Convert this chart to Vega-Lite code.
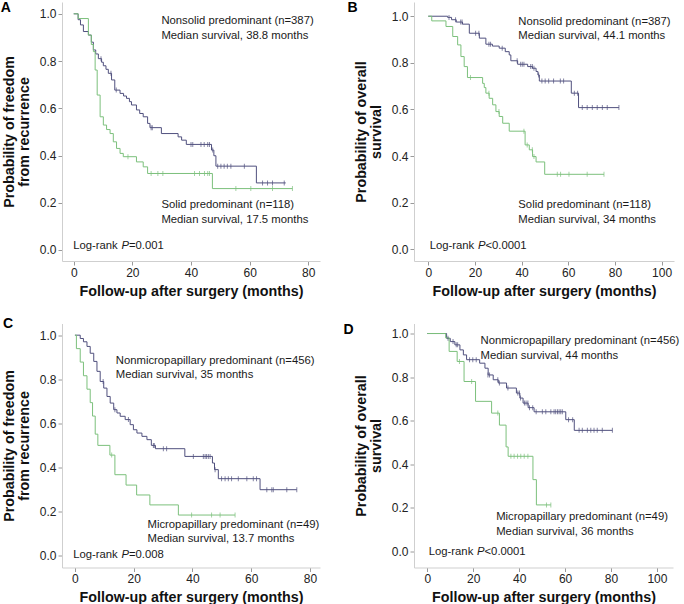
{
"$schema": "https://vega.github.io/schema/vega-lite/v6.json",
"padding": {"left": 0, "top": 0, "right": 0, "bottom": 0},
"columns": 2,
"bounds": "flush",
"spacing": {"row": 62.5, "column": 94},
"config": {
 "view": {"stroke": null},
 "font": "Liberation Sans",
 "axis": {"grid": false, "domainColor": "#cfcfcf", "tickColor": "#9a9a9a", "tickSize": 4, "labelFont": "Liberation Sans", "labelFontSize": 12, "labelColor": "#222", "labelPadding": 2, "titleFont": "Liberation Sans", "titleFontSize": 14.3, "titleFontWeight": "bold", "titleColor": "#111", "titleLineHeight": 15},
 "axisX": {"titlePadding": 6},
 "axisY": {"titlePadding": 8},
 "text": {"font": "Liberation Sans", "fontSize": 11.3, "color": "#1a1a1a"}
},
"datasets": {
 "km": [
  {"p":"A","g":"n","t":0,"s":1},{"p":"A","g":"n","t":1.5,"s":0.975},{"p":"A","g":"n","t":2.3,"s":0.953},{"p":"A","g":"n","t":3.3,"s":0.925},{"p":"A","g":"n","t":5.0,"s":0.91},{"p":"A","g":"n","t":6.0,"s":0.88},{"p":"A","g":"n","t":6.7,"s":0.847},{"p":"A","g":"n","t":7.5,"s":0.83},{"p":"A","g":"n","t":8.4,"s":0.81},{"p":"A","g":"n","t":9.5,"s":0.795},{"p":"A","g":"n","t":10.1,"s":0.78},{"p":"A","g":"n","t":11.0,"s":0.765},{"p":"A","g":"n","t":11.8,"s":0.748},{"p":"A","g":"n","t":12.9,"s":0.72},{"p":"A","g":"n","t":14.0,"s":0.677},{"p":"A","g":"n","t":15.8,"s":0.663},{"p":"A","g":"n","t":17.0,"s":0.652},{"p":"A","g":"n","t":18.0,"s":0.642},{"p":"A","g":"n","t":19.0,"s":0.628},{"p":"A","g":"n","t":19.7,"s":0.614},{"p":"A","g":"n","t":21.4,"s":0.593},{"p":"A","g":"n","t":22.5,"s":0.578},{"p":"A","g":"n","t":23.7,"s":0.564},{"p":"A","g":"n","t":25.2,"s":0.536},{"p":"A","g":"n","t":26.0,"s":0.518},{"p":"A","g":"n","t":29.9,"s":0.493},{"p":"A","g":"n","t":35.6,"s":0.479},{"p":"A","g":"n","t":36.8,"s":0.465},{"p":"A","g":"n","t":38.4,"s":0.447},{"p":"A","g":"n","t":47.0,"s":0.423},{"p":"A","g":"n","t":47.8,"s":0.399},{"p":"A","g":"n","t":48.5,"s":0.355},{"p":"A","g":"n","t":62.3,"s":0.284},{"p":"A","g":"n","t":72.3,"s":0.284},
  {"p":"A","g":"s","t":0,"s":1},{"p":"A","g":"s","t":1.5,"s":0.98},{"p":"A","g":"s","t":5.0,"s":0.91},{"p":"A","g":"s","t":6.0,"s":0.87},{"p":"A","g":"s","t":6.7,"s":0.84},{"p":"A","g":"s","t":7.3,"s":0.762},{"p":"A","g":"s","t":8.0,"s":0.656},{"p":"A","g":"s","t":9.0,"s":0.564},{"p":"A","g":"s","t":10.1,"s":0.529},{"p":"A","g":"s","t":11.2,"s":0.51},{"p":"A","g":"s","t":12.4,"s":0.493},{"p":"A","g":"s","t":13.5,"s":0.458},{"p":"A","g":"s","t":14.6,"s":0.43},{"p":"A","g":"s","t":15.8,"s":0.409},{"p":"A","g":"s","t":16.9,"s":0.395},{"p":"A","g":"s","t":21.4,"s":0.373},{"p":"A","g":"s","t":23.7,"s":0.352},{"p":"A","g":"s","t":25.2,"s":0.324},{"p":"A","g":"s","t":47.3,"s":0.26},{"p":"A","g":"s","t":74.6,"s":0.26},
  {"p":"B","g":"n","t":0,"s":1},{"p":"B","g":"n","t":8.3,"s":0.995},{"p":"B","g":"n","t":10,"s":0.985},{"p":"B","g":"n","t":12,"s":0.975},{"p":"B","g":"n","t":14.7,"s":0.966},{"p":"B","g":"n","t":17.6,"s":0.927},{"p":"B","g":"n","t":21.9,"s":0.906},{"p":"B","g":"n","t":24.7,"s":0.88},{"p":"B","g":"n","t":27.5,"s":0.872},{"p":"B","g":"n","t":30.4,"s":0.863},{"p":"B","g":"n","t":33,"s":0.848},{"p":"B","g":"n","t":34.7,"s":0.834},{"p":"B","g":"n","t":35.4,"s":0.809},{"p":"B","g":"n","t":38.3,"s":0.794},{"p":"B","g":"n","t":42.6,"s":0.784},{"p":"B","g":"n","t":44.7,"s":0.777},{"p":"B","g":"n","t":46.2,"s":0.763},{"p":"B","g":"n","t":47.0,"s":0.748},{"p":"B","g":"n","t":47.6,"s":0.722},{"p":"B","g":"n","t":61.3,"s":0.67},{"p":"B","g":"n","t":64.4,"s":0.608},{"p":"B","g":"n","t":81.7,"s":0.608},
  {"p":"B","g":"s","t":0,"s":1},{"p":"B","g":"s","t":1.5,"s":0.98},{"p":"B","g":"s","t":7.6,"s":0.956},{"p":"B","g":"s","t":10.5,"s":0.913},{"p":"B","g":"s","t":12.6,"s":0.877},{"p":"B","g":"s","t":14.0,"s":0.827},{"p":"B","g":"s","t":15.4,"s":0.784},{"p":"B","g":"s","t":16.8,"s":0.737},{"p":"B","g":"s","t":23.3,"s":0.712},{"p":"B","g":"s","t":24.0,"s":0.694},{"p":"B","g":"s","t":24.7,"s":0.67},{"p":"B","g":"s","t":26.1,"s":0.648},{"p":"B","g":"s","t":27.6,"s":0.62},{"p":"B","g":"s","t":29.0,"s":0.591},{"p":"B","g":"s","t":30.4,"s":0.57},{"p":"B","g":"s","t":31.9,"s":0.541},{"p":"B","g":"s","t":34.7,"s":0.507},{"p":"B","g":"s","t":41.5,"s":0.448},{"p":"B","g":"s","t":43.3,"s":0.427},{"p":"B","g":"s","t":44.7,"s":0.398},{"p":"B","g":"s","t":46.2,"s":0.375},{"p":"B","g":"s","t":49.9,"s":0.322},{"p":"B","g":"s","t":75.3,"s":0.322},
  {"p":"C","g":"n","t":0,"s":1},{"p":"C","g":"n","t":1.8,"s":0.985},{"p":"C","g":"n","t":2.9,"s":0.97},{"p":"C","g":"n","t":4.1,"s":0.949},{"p":"C","g":"n","t":5.2,"s":0.918},{"p":"C","g":"n","t":6.4,"s":0.881},{"p":"C","g":"n","t":7.5,"s":0.836},{"p":"C","g":"n","t":8.6,"s":0.79},{"p":"C","g":"n","t":9.8,"s":0.76},{"p":"C","g":"n","t":10.9,"s":0.722},{"p":"C","g":"n","t":12.0,"s":0.692},{"p":"C","g":"n","t":13.2,"s":0.662},{"p":"C","g":"n","t":14.3,"s":0.647},{"p":"C","g":"n","t":15.4,"s":0.632},{"p":"C","g":"n","t":17.1,"s":0.617},{"p":"C","g":"n","t":18.8,"s":0.594},{"p":"C","g":"n","t":19.9,"s":0.571},{"p":"C","g":"n","t":21.1,"s":0.556},{"p":"C","g":"n","t":22.8,"s":0.541},{"p":"C","g":"n","t":24.5,"s":0.526},{"p":"C","g":"n","t":26.0,"s":0.5},{"p":"C","g":"n","t":27.4,"s":0.485},{"p":"C","g":"n","t":37.4,"s":0.45},{"p":"C","g":"n","t":46.8,"s":0.42},{"p":"C","g":"n","t":47.5,"s":0.39},{"p":"C","g":"n","t":48.8,"s":0.349},{"p":"C","g":"n","t":63,"s":0.299},{"p":"C","g":"n","t":75.5,"s":0.299},
  {"p":"C","g":"s","t":0,"s":1},{"p":"C","g":"s","t":0.5,"s":0.939},{"p":"C","g":"s","t":1.8,"s":0.878},{"p":"C","g":"s","t":2.9,"s":0.816},{"p":"C","g":"s","t":4.1,"s":0.755},{"p":"C","g":"s","t":5.2,"s":0.694},{"p":"C","g":"s","t":6.0,"s":0.633},{"p":"C","g":"s","t":6.9,"s":0.551},{"p":"C","g":"s","t":7.8,"s":0.5},{"p":"C","g":"s","t":11.9,"s":0.456},{"p":"C","g":"s","t":13.6,"s":0.367},{"p":"C","g":"s","t":17.4,"s":0.32},{"p":"C","g":"s","t":21.0,"s":0.275},{"p":"C","g":"s","t":25.5,"s":0.23},{"p":"C","g":"s","t":35.2,"s":0.184},{"p":"C","g":"s","t":54.5,"s":0.184},
  {"p":"D","g":"n","t":0,"s":1},{"p":"D","g":"n","t":8.4,"s":0.978},{"p":"D","g":"n","t":10.0,"s":0.963},{"p":"D","g":"n","t":12.0,"s":0.948},{"p":"D","g":"n","t":14.2,"s":0.925},{"p":"D","g":"n","t":15.7,"s":0.902},{"p":"D","g":"n","t":17.1,"s":0.88},{"p":"D","g":"n","t":22.8,"s":0.864},{"p":"D","g":"n","t":25.1,"s":0.841},{"p":"D","g":"n","t":26.5,"s":0.81},{"p":"D","g":"n","t":28.7,"s":0.788},{"p":"D","g":"n","t":30.9,"s":0.773},{"p":"D","g":"n","t":34.5,"s":0.75},{"p":"D","g":"n","t":38.8,"s":0.727},{"p":"D","g":"n","t":40.3,"s":0.704},{"p":"D","g":"n","t":41.7,"s":0.681},{"p":"D","g":"n","t":43.9,"s":0.66},{"p":"D","g":"n","t":46.5,"s":0.641},{"p":"D","g":"n","t":60.3,"s":0.605},{"p":"D","g":"n","t":64.0,"s":0.556},{"p":"D","g":"n","t":80.6,"s":0.556},
  {"p":"D","g":"s","t":0,"s":1},{"p":"D","g":"s","t":8.0,"s":0.98},{"p":"D","g":"s","t":9.5,"s":0.918},{"p":"D","g":"s","t":13.0,"s":0.872},{"p":"D","g":"s","t":16.0,"s":0.78},{"p":"D","g":"s","t":21.0,"s":0.689},{"p":"D","g":"s","t":28.0,"s":0.635},{"p":"D","g":"s","t":31.4,"s":0.58},{"p":"D","g":"s","t":34.3,"s":0.48},{"p":"D","g":"s","t":35.2,"s":0.437},{"p":"D","g":"s","t":46.0,"s":0.33},{"p":"D","g":"s","t":47.5,"s":0.214},{"p":"D","g":"s","t":53.8,"s":0.214}
 ],
 "cens": [
  {"p":"A","g":"n","t":9.3,"s":0.81},{"p":"A","g":"n","t":12.7,"s":0.748},{"p":"A","g":"n","t":14.5,"s":0.677},{"p":"A","g":"n","t":26.4,"s":0.518},{"p":"A","g":"n","t":26.8,"s":0.518},{"p":"A","g":"n","t":40.0,"s":0.447},{"p":"A","g":"n","t":40.6,"s":0.447},{"p":"A","g":"n","t":43.4,"s":0.447},{"p":"A","g":"n","t":44.5,"s":0.447},{"p":"A","g":"n","t":45.7,"s":0.447},{"p":"A","g":"n","t":46.3,"s":0.447},{"p":"A","g":"n","t":47.4,"s":0.423},{"p":"A","g":"n","t":49.1,"s":0.355},{"p":"A","g":"n","t":50.2,"s":0.355},{"p":"A","g":"n","t":51.3,"s":0.355},{"p":"A","g":"n","t":52.4,"s":0.355},{"p":"A","g":"n","t":53.6,"s":0.355},{"p":"A","g":"n","t":58.2,"s":0.355},{"p":"A","g":"n","t":64.4,"s":0.284},{"p":"A","g":"n","t":66.1,"s":0.284},{"p":"A","g":"n","t":67.8,"s":0.284},{"p":"A","g":"n","t":71.8,"s":0.284},
  {"p":"A","g":"s","t":18.5,"s":0.395},{"p":"A","g":"s","t":26.4,"s":0.324},{"p":"A","g":"s","t":28.7,"s":0.324},{"p":"A","g":"s","t":30.4,"s":0.324},{"p":"A","g":"s","t":41.2,"s":0.324},{"p":"A","g":"s","t":42.9,"s":0.324},{"p":"A","g":"s","t":44.6,"s":0.324},{"p":"A","g":"s","t":45.7,"s":0.324},{"p":"A","g":"s","t":46.3,"s":0.324},{"p":"A","g":"s","t":55.3,"s":0.26},{"p":"A","g":"s","t":60.4,"s":0.26},{"p":"A","g":"s","t":67.8,"s":0.26},{"p":"A","g":"s","t":74.6,"s":0.26},
  {"p":"B","g":"n","t":8.9,"s":0.995},{"p":"B","g":"n","t":11.7,"s":0.985},{"p":"B","g":"n","t":13.9,"s":0.975},{"p":"B","g":"n","t":14.5,"s":0.975},{"p":"B","g":"n","t":20.3,"s":0.927},{"p":"B","g":"n","t":21.7,"s":0.927},{"p":"B","g":"n","t":26.0,"s":0.88},{"p":"B","g":"n","t":26.7,"s":0.88},{"p":"B","g":"n","t":31.7,"s":0.863},{"p":"B","g":"n","t":38.1,"s":0.809},{"p":"B","g":"n","t":39.6,"s":0.794},{"p":"B","g":"n","t":40.3,"s":0.794},{"p":"B","g":"n","t":41.0,"s":0.794},{"p":"B","g":"n","t":43.9,"s":0.784},{"p":"B","g":"n","t":44.6,"s":0.784},{"p":"B","g":"n","t":45.3,"s":0.777},{"p":"B","g":"n","t":47.3,"s":0.748},{"p":"B","g":"n","t":48.7,"s":0.722},{"p":"B","g":"n","t":50.1,"s":0.722},{"p":"B","g":"n","t":51.6,"s":0.722},{"p":"B","g":"n","t":53.7,"s":0.722},{"p":"B","g":"n","t":56.6,"s":0.722},{"p":"B","g":"n","t":58.0,"s":0.722},{"p":"B","g":"n","t":62.6,"s":0.67},{"p":"B","g":"n","t":64.0,"s":0.67},{"p":"B","g":"n","t":66.0,"s":0.608},{"p":"B","g":"n","t":68.1,"s":0.608},{"p":"B","g":"n","t":70.3,"s":0.608},{"p":"B","g":"n","t":72.4,"s":0.608},{"p":"B","g":"n","t":74.6,"s":0.608},{"p":"B","g":"n","t":76.7,"s":0.608},{"p":"B","g":"n","t":81.7,"s":0.608},
  {"p":"B","g":"s","t":18.1,"s":0.737},{"p":"B","g":"s","t":26.0,"s":0.67},{"p":"B","g":"s","t":30.3,"s":0.591},{"p":"B","g":"s","t":41.0,"s":0.507},{"p":"B","g":"s","t":42.4,"s":0.448},{"p":"B","g":"s","t":44.6,"s":0.427},{"p":"B","g":"s","t":45.3,"s":0.398},{"p":"B","g":"s","t":55.3,"s":0.322},{"p":"B","g":"s","t":56.7,"s":0.322},{"p":"B","g":"s","t":60.3,"s":0.322},{"p":"B","g":"s","t":68.1,"s":0.322},{"p":"B","g":"s","t":75.3,"s":0.322},
  {"p":"C","g":"n","t":9.6,"s":0.79},{"p":"C","g":"n","t":13.6,"s":0.662},{"p":"C","g":"n","t":18.2,"s":0.617},{"p":"C","g":"n","t":26.7,"s":0.5},{"p":"C","g":"n","t":27.0,"s":0.5},{"p":"C","g":"n","t":30.1,"s":0.485},{"p":"C","g":"n","t":31.2,"s":0.485},{"p":"C","g":"n","t":40.3,"s":0.45},{"p":"C","g":"n","t":43.7,"s":0.45},{"p":"C","g":"n","t":44.3,"s":0.45},{"p":"C","g":"n","t":44.8,"s":0.45},{"p":"C","g":"n","t":45.4,"s":0.45},{"p":"C","g":"n","t":46.0,"s":0.45},{"p":"C","g":"n","t":47.7,"s":0.39},{"p":"C","g":"n","t":49.9,"s":0.349},{"p":"C","g":"n","t":51.1,"s":0.349},{"p":"C","g":"n","t":52.2,"s":0.349},{"p":"C","g":"n","t":53.3,"s":0.349},{"p":"C","g":"n","t":55.6,"s":0.349},{"p":"C","g":"n","t":58.5,"s":0.349},{"p":"C","g":"n","t":60.7,"s":0.349},{"p":"C","g":"n","t":61.8,"s":0.349},{"p":"C","g":"n","t":65.3,"s":0.299},{"p":"C","g":"n","t":67.0,"s":0.299},{"p":"C","g":"n","t":67.5,"s":0.299},{"p":"C","g":"n","t":72.1,"s":0.299},{"p":"C","g":"n","t":75.5,"s":0.299},
  {"p":"C","g":"s","t":12.5,"s":0.456},{"p":"C","g":"s","t":39.7,"s":0.184},{"p":"C","g":"s","t":46.5,"s":0.184},{"p":"C","g":"s","t":49.4,"s":0.184},{"p":"C","g":"s","t":54.5,"s":0.184},
  {"p":"D","g":"n","t":9.0,"s":0.978},{"p":"D","g":"n","t":11.2,"s":0.963},{"p":"D","g":"n","t":12.6,"s":0.948},{"p":"D","g":"n","t":13.2,"s":0.948},{"p":"D","g":"n","t":18.4,"s":0.88},{"p":"D","g":"n","t":19.8,"s":0.88},{"p":"D","g":"n","t":21.3,"s":0.88},{"p":"D","g":"n","t":26.4,"s":0.81},{"p":"D","g":"n","t":27.1,"s":0.81},{"p":"D","g":"n","t":30.7,"s":0.788},{"p":"D","g":"n","t":31.4,"s":0.773},{"p":"D","g":"n","t":35.1,"s":0.75},{"p":"D","g":"n","t":39.4,"s":0.727},{"p":"D","g":"n","t":40.1,"s":0.727},{"p":"D","g":"n","t":40.6,"s":0.704},{"p":"D","g":"n","t":42.3,"s":0.681},{"p":"D","g":"n","t":43.0,"s":0.681},{"p":"D","g":"n","t":43.8,"s":0.681},{"p":"D","g":"n","t":44.5,"s":0.66},{"p":"D","g":"n","t":45.9,"s":0.66},{"p":"D","g":"n","t":47.4,"s":0.641},{"p":"D","g":"n","t":50.1,"s":0.641},{"p":"D","g":"n","t":51.6,"s":0.641},{"p":"D","g":"n","t":53.8,"s":0.641},{"p":"D","g":"n","t":55.2,"s":0.641},{"p":"D","g":"n","t":55.9,"s":0.641},{"p":"D","g":"n","t":56.7,"s":0.641},{"p":"D","g":"n","t":57.4,"s":0.641},{"p":"D","g":"n","t":58.1,"s":0.641},{"p":"D","g":"n","t":58.8,"s":0.641},{"p":"D","g":"n","t":61.5,"s":0.605},{"p":"D","g":"n","t":63.3,"s":0.605},{"p":"D","g":"n","t":66.1,"s":0.556},{"p":"D","g":"n","t":67.5,"s":0.556},{"p":"D","g":"n","t":69.7,"s":0.556},{"p":"D","g":"n","t":71.2,"s":0.556},{"p":"D","g":"n","t":72.6,"s":0.556},{"p":"D","g":"n","t":74.0,"s":0.556},{"p":"D","g":"n","t":76.2,"s":0.556},{"p":"D","g":"n","t":80.6,"s":0.556},
  {"p":"D","g":"s","t":14.0,"s":0.872},{"p":"D","g":"s","t":19.3,"s":0.78},{"p":"D","g":"s","t":30.7,"s":0.635},{"p":"D","g":"s","t":36.4,"s":0.437},{"p":"D","g":"s","t":37.8,"s":0.437},{"p":"D","g":"s","t":39.3,"s":0.437},{"p":"D","g":"s","t":40.7,"s":0.437},{"p":"D","g":"s","t":42.2,"s":0.437},{"p":"D","g":"s","t":43.8,"s":0.437},{"p":"D","g":"s","t":51.9,"s":0.214},{"p":"D","g":"s","t":53.8,"s":0.214}
 ],
 "notes": [
  {"p":"A","t":29.9,"s":0.970,"text":"Nonsolid predominant (n=387)"},{"p":"A","t":29.9,"s":0.908,"text":"Median survival, 38.8 months"},{"p":"A","t":29.9,"s":0.19,"text":"Solid predominant (n=118)"},{"p":"A","t":29.9,"s":0.127,"text":"Median survival, 17.5 months"},
  {"p":"B","t":38.6,"s":0.977,"text":"Nonsolid predominant (n=387)"},{"p":"B","t":38.6,"s":0.917,"text":"Median survival, 44.1 months"},{"p":"B","t":38.6,"s":0.19,"text":"Solid predominant (n=118)"},{"p":"B","t":38.6,"s":0.126,"text":"Median survival, 34 months"},
  {"p":"C","t":13.9,"s":0.884,"text":"Nonmicropapillary predominant (n=456)"},{"p":"C","t":13.9,"s":0.819,"text":"Median survival, 35 months"},{"p":"C","t":24.7,"s":0.139,"text":"Micropapillary predominant (n=49)"},{"p":"C","t":24.7,"s":0.074,"text":"Median survival, 13.7 months"},
  {"p":"D","t":23.2,"s":0.967,"text":"Nonmicropapillary predominant (n=456)"},{"p":"D","t":23.2,"s":0.898,"text":"Median survival, 44 months"},{"p":"D","t":30,"s":0.16,"text":"Micropapillary predominant (n=49)"},{"p":"D","t":30,"s":0.092,"text":"Median survival, 36 months"}
 ],
 "lr": [
  {"p":"A","t":-0.2,"s":0.017,"v":"=0.001"},{"p":"B","t":0.6,"s":0.015,"v":"<0.0001"},{"p":"C","t":-0.6,"s":0.003,"v":"=0.008"},{"p":"D","t":0.6,"s":0.0,"v":"<0.0001"}
 ],
 "letters": [
  {"p":"A","t":-24.9,"s":1.025,"text":"A"},{"p":"B","t":-34.6,"s":1.036,"text":"B"},{"p":"C","t":-24.5,"s":1.05,"text":"C"},{"p":"D","t":-36.5,"s":1.017,"text":"D"}
 ]
},
"concat": [
 {"width": 258, "height": 259,
  "layer": [
   {"data": {"name": "km"}, "transform": [{"filter": "datum.p === 'A'"}], "mark": {"type": "line", "interpolate": "step-after", "strokeWidth": 1},
    "encoding": {
     "x": {"field": "t", "type": "quantitative", "scale": {"domain": [-4, 84], "nice": false, "zero": false}, "axis": {"values": [0,20,40,60,80], "title": "Follow-up after surgery (months)"}},
     "y": {"field": "s", "type": "quantitative", "scale": {"domain": [-0.0466, 1.05], "nice": false, "zero": false}, "axis": {"values": [0,0.2,0.4,0.6,0.8,1], "format": ".1f", "title": ["Probability of freedom", "from recurrence"]}},
     "color": {"field": "g", "type": "nominal", "scale": {"domain": ["n","s"], "range": ["#50507e", "#7cc07c"]}, "legend": null}}},
   {"data": {"name": "cens"}, "transform": [{"filter": "datum.p === 'A'"}], "mark": {"type": "tick", "orient": "vertical", "size": 5, "thickness": 1},
    "encoding": {"x": {"field": "t", "type": "quantitative"}, "y": {"field": "s", "type": "quantitative"}, "color": {"field": "g", "type": "nominal"}}},
   {"data": {"name": "notes"}, "transform": [{"filter": "datum.p === 'A'"}], "mark": {"type": "text", "align": "left", "baseline": "middle"},
    "encoding": {"x": {"field": "t", "type": "quantitative"}, "y": {"field": "s", "type": "quantitative"}, "text": {"field": "text"}}},
   {"data": {"name": "letters"}, "transform": [{"filter": "datum.p === 'A'"}], "mark": {"type": "text", "align": "left", "baseline": "middle", "fontSize": 14, "fontWeight": "bold", "color": "#000"},
    "encoding": {"x": {"field": "t", "type": "quantitative"}, "y": {"field": "s", "type": "quantitative"}, "text": {"field": "text"}}},
   {"data": {"name": "lr"}, "transform": [{"filter": "datum.p === 'A'"}], "mark": {"type": "text", "align": "left", "baseline": "middle"},
    "encoding": {"x": {"field": "t", "type": "quantitative"}, "y": {"field": "s", "type": "quantitative"}, "text": {"value": "Log-rank"}}},
   {"data": {"name": "lr"}, "transform": [{"filter": "datum.p === 'A'"}], "mark": {"type": "text", "align": "left", "baseline": "middle", "fontStyle": "italic", "dx": 48.3},
    "encoding": {"x": {"field": "t", "type": "quantitative"}, "y": {"field": "s", "type": "quantitative"}, "text": {"value": "P"}}},
   {"data": {"name": "lr"}, "transform": [{"filter": "datum.p === 'A'"}], "mark": {"type": "text", "align": "left", "baseline": "middle", "dx": 55.8},
    "encoding": {"x": {"field": "t", "type": "quantitative"}, "y": {"field": "s", "type": "quantitative"}, "text": {"field": "v"}}}
  ]},
 {"width": 260, "height": 259,
  "layer": [
   {"data": {"name": "km"}, "transform": [{"filter": "datum.p === 'B'"}], "mark": {"type": "line", "interpolate": "step-after", "strokeWidth": 1},
    "encoding": {
     "x": {"field": "t", "type": "quantitative", "scale": {"domain": [-6.1, 105.3], "nice": false, "zero": false}, "axis": {"values": [0,20,40,60,80,100], "title": "Follow-up after surgery (months)"}},
     "y": {"field": "s", "type": "quantitative", "scale": {"domain": [-0.0498, 1.061], "nice": false, "zero": false}, "axis": {"values": [0,0.2,0.4,0.6,0.8,1], "format": ".1f", "title": ["Probability of overall", "survival"]}},
     "color": {"field": "g", "type": "nominal", "scale": {"domain": ["n","s"], "range": ["#50507e", "#7cc07c"]}, "legend": null}}},
   {"data": {"name": "cens"}, "transform": [{"filter": "datum.p === 'B'"}], "mark": {"type": "tick", "orient": "vertical", "size": 5, "thickness": 1},
    "encoding": {"x": {"field": "t", "type": "quantitative"}, "y": {"field": "s", "type": "quantitative"}, "color": {"field": "g", "type": "nominal"}}},
   {"data": {"name": "notes"}, "transform": [{"filter": "datum.p === 'B'"}], "mark": {"type": "text", "align": "left", "baseline": "middle"},
    "encoding": {"x": {"field": "t", "type": "quantitative"}, "y": {"field": "s", "type": "quantitative"}, "text": {"field": "text"}}},
   {"data": {"name": "letters"}, "transform": [{"filter": "datum.p === 'B'"}], "mark": {"type": "text", "align": "left", "baseline": "middle", "fontSize": 14, "fontWeight": "bold", "color": "#000"},
    "encoding": {"x": {"field": "t", "type": "quantitative"}, "y": {"field": "s", "type": "quantitative"}, "text": {"field": "text"}}},
   {"data": {"name": "lr"}, "transform": [{"filter": "datum.p === 'B'"}], "mark": {"type": "text", "align": "left", "baseline": "middle"},
    "encoding": {"x": {"field": "t", "type": "quantitative"}, "y": {"field": "s", "type": "quantitative"}, "text": {"value": "Log-rank"}}},
   {"data": {"name": "lr"}, "transform": [{"filter": "datum.p === 'B'"}], "mark": {"type": "text", "align": "left", "baseline": "middle", "fontStyle": "italic", "dx": 48.3},
    "encoding": {"x": {"field": "t", "type": "quantitative"}, "y": {"field": "s", "type": "quantitative"}, "text": {"value": "P"}}},
   {"data": {"name": "lr"}, "transform": [{"filter": "datum.p === 'B'"}], "mark": {"type": "text", "align": "left", "baseline": "middle", "dx": 55.8},
    "encoding": {"x": {"field": "t", "type": "quantitative"}, "y": {"field": "s", "type": "quantitative"}, "text": {"field": "v"}}}
  ]},
 {"width": 258, "height": 244,
  "layer": [
   {"data": {"name": "km"}, "transform": [{"filter": "datum.p === 'C'"}], "mark": {"type": "line", "interpolate": "step-after", "strokeWidth": 1},
    "encoding": {
     "x": {"field": "t", "type": "quantitative", "scale": {"domain": [-4.4, 83.4], "nice": false, "zero": false}, "axis": {"values": [0,20,40,60,80], "title": "Follow-up after surgery (months)"}},
     "y": {"field": "s", "type": "quantitative", "scale": {"domain": [-0.054, 1.053], "nice": false, "zero": false}, "axis": {"values": [0,0.2,0.4,0.6,0.8,1], "format": ".1f", "title": ["Probability of freedom", "from recurrence"]}},
     "color": {"field": "g", "type": "nominal", "scale": {"domain": ["n","s"], "range": ["#50507e", "#7cc07c"]}, "legend": null}}},
   {"data": {"name": "cens"}, "transform": [{"filter": "datum.p === 'C'"}], "mark": {"type": "tick", "orient": "vertical", "size": 5, "thickness": 1},
    "encoding": {"x": {"field": "t", "type": "quantitative"}, "y": {"field": "s", "type": "quantitative"}, "color": {"field": "g", "type": "nominal"}}},
   {"data": {"name": "notes"}, "transform": [{"filter": "datum.p === 'C'"}], "mark": {"type": "text", "align": "left", "baseline": "middle"},
    "encoding": {"x": {"field": "t", "type": "quantitative"}, "y": {"field": "s", "type": "quantitative"}, "text": {"field": "text"}}},
   {"data": {"name": "letters"}, "transform": [{"filter": "datum.p === 'C'"}], "mark": {"type": "text", "align": "left", "baseline": "middle", "fontSize": 14, "fontWeight": "bold", "color": "#000"},
    "encoding": {"x": {"field": "t", "type": "quantitative"}, "y": {"field": "s", "type": "quantitative"}, "text": {"field": "text"}}},
   {"data": {"name": "lr"}, "transform": [{"filter": "datum.p === 'C'"}], "mark": {"type": "text", "align": "left", "baseline": "middle"},
    "encoding": {"x": {"field": "t", "type": "quantitative"}, "y": {"field": "s", "type": "quantitative"}, "text": {"value": "Log-rank"}}},
   {"data": {"name": "lr"}, "transform": [{"filter": "datum.p === 'C'"}], "mark": {"type": "text", "align": "left", "baseline": "middle", "fontStyle": "italic", "dx": 48.3},
    "encoding": {"x": {"field": "t", "type": "quantitative"}, "y": {"field": "s", "type": "quantitative"}, "text": {"value": "P"}}},
   {"data": {"name": "lr"}, "transform": [{"filter": "datum.p === 'C'"}], "mark": {"type": "text", "align": "left", "baseline": "middle", "dx": 55.8},
    "encoding": {"x": {"field": "t", "type": "quantitative"}, "y": {"field": "s", "type": "quantitative"}, "text": {"field": "v"}}}
  ]},
 {"width": 259, "height": 244,
  "layer": [
   {"data": {"name": "km"}, "transform": [{"filter": "datum.p === 'D'"}], "mark": {"type": "line", "interpolate": "step-after", "strokeWidth": 1},
    "encoding": {
     "x": {"field": "t", "type": "quantitative", "scale": {"domain": [-5.8, 107], "nice": false, "zero": false}, "axis": {"values": [0,20,40,60,80,100], "title": "Follow-up after surgery (months)"}},
     "y": {"field": "s", "type": "quantitative", "scale": {"domain": [-0.073, 1.046], "nice": false, "zero": false}, "axis": {"values": [0,0.2,0.4,0.6,0.8,1], "format": ".1f", "title": ["Probability of overall", "survival"]}},
     "color": {"field": "g", "type": "nominal", "scale": {"domain": ["n","s"], "range": ["#50507e", "#7cc07c"]}, "legend": null}}},
   {"data": {"name": "cens"}, "transform": [{"filter": "datum.p === 'D'"}], "mark": {"type": "tick", "orient": "vertical", "size": 5, "thickness": 1},
    "encoding": {"x": {"field": "t", "type": "quantitative"}, "y": {"field": "s", "type": "quantitative"}, "color": {"field": "g", "type": "nominal"}}},
   {"data": {"name": "notes"}, "transform": [{"filter": "datum.p === 'D'"}], "mark": {"type": "text", "align": "left", "baseline": "middle"},
    "encoding": {"x": {"field": "t", "type": "quantitative"}, "y": {"field": "s", "type": "quantitative"}, "text": {"field": "text"}}},
   {"data": {"name": "letters"}, "transform": [{"filter": "datum.p === 'D'"}], "mark": {"type": "text", "align": "left", "baseline": "middle", "fontSize": 14, "fontWeight": "bold", "color": "#000"},
    "encoding": {"x": {"field": "t", "type": "quantitative"}, "y": {"field": "s", "type": "quantitative"}, "text": {"field": "text"}}},
   {"data": {"name": "lr"}, "transform": [{"filter": "datum.p === 'D'"}], "mark": {"type": "text", "align": "left", "baseline": "middle"},
    "encoding": {"x": {"field": "t", "type": "quantitative"}, "y": {"field": "s", "type": "quantitative"}, "text": {"value": "Log-rank"}}},
   {"data": {"name": "lr"}, "transform": [{"filter": "datum.p === 'D'"}], "mark": {"type": "text", "align": "left", "baseline": "middle", "fontStyle": "italic", "dx": 48.3},
    "encoding": {"x": {"field": "t", "type": "quantitative"}, "y": {"field": "s", "type": "quantitative"}, "text": {"value": "P"}}},
   {"data": {"name": "lr"}, "transform": [{"filter": "datum.p === 'D'"}], "mark": {"type": "text", "align": "left", "baseline": "middle", "dx": 55.8},
    "encoding": {"x": {"field": "t", "type": "quantitative"}, "y": {"field": "s", "type": "quantitative"}, "text": {"field": "v"}}}
  ]}
]
}
